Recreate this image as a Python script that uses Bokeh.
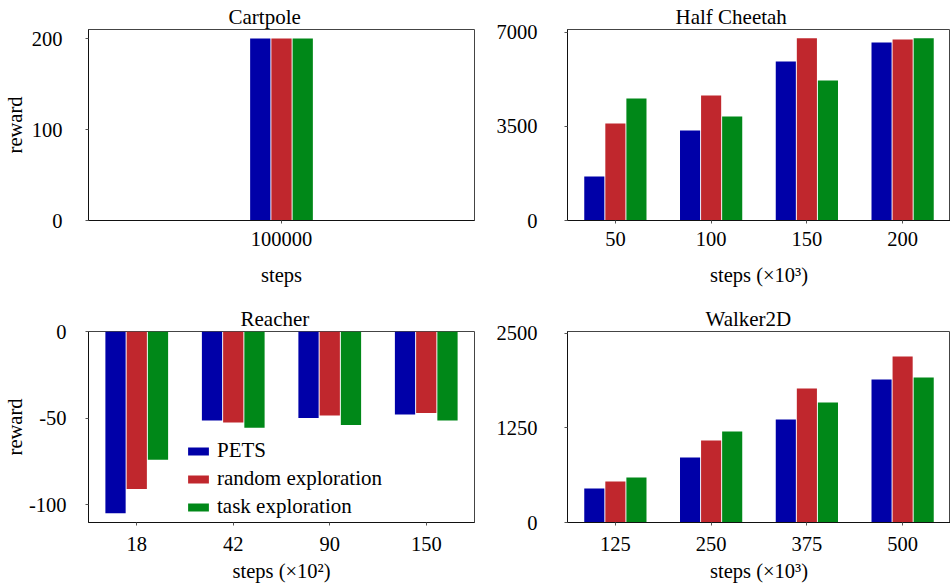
from bokeh.plotting import figure
from bokeh.models import Range1d, FactorRange, FixedTicker, Legend, LegendItem, ColumnDataSource
from bokeh.layouts import row, column
from bokeh.transform import dodge
from bokeh.embed import file_html
from bokeh.resources import INLINE

FONT = "'Liberation Serif'"
C_PETS = "#0000A8"
C_RAND = "#C0272D"
C_TASK = "#008818"

series = ["PETS", "random exploration", "task exploration"]

cartpole_steps = ["100000"]
cartpole_pets = [200]
cartpole_random = [200]
cartpole_task = [200]

cheetah_steps = ["50", "100", "150", "200"]
cheetah_pets = [1640, 3350, 5920, 6630]
cheetah_random = [3610, 4650, 6780, 6740]
cheetah_task = [4540, 3870, 5210, 6780]

reacher_steps = ["18", "42", "90", "150"]
reacher_pets = [-105, -51.4, -50, -48]
reacher_random = [-91, -52.6, -48.5, -47]
reacher_task = [-74, -55.6, -54, -51.4]
reacher_ytick_labels = {-100: "-100", -50: "-50", 0: "0"}

walker_steps = ["125", "250", "375", "500"]
walker_pets = [450, 860, 1362, 1891]
walker_random = [542, 1085, 1772, 2196]
walker_task = [595, 1204, 1587, 1918]


def panel(title, steps, pets, rnd, task, y_range, yticks, xlabel, ylabel,
          width, height, bl, br, bt, bb, title_offset, pad, y_standoff, ylab_standoff,
          x_standoff, xlab_standoff):
    src = ColumnDataSource(dict(step=steps, pets=pets, rnd=rnd, task=task))
    xr = FactorRange(*steps, range_padding=pad, range_padding_units="absolute")
    p = figure(x_range=xr, y_range=Range1d(*y_range), width=width, height=height,
               output_backend="svg", toolbar_location=None,
               min_border_left=bl, min_border_right=br, min_border_top=bt, min_border_bottom=bb)
    r1 = p.vbar(x=dodge("step", -0.22, range=xr), top="pets", width=0.21, source=src,
                fill_color=C_PETS, line_color=None)
    r2 = p.vbar(x=dodge("step", 0.0, range=xr), top="rnd", width=0.21, source=src,
                fill_color=C_RAND, line_color=None)
    r3 = p.vbar(x=dodge("step", 0.22, range=xr), top="task", width=0.21, source=src,
                fill_color=C_TASK, line_color=None)
    p.title.text = title
    p.title.align = "left"
    p.title.offset = title_offset
    p.title.text_font = FONT
    p.title.text_font_size = "21px"
    p.title.text_font_style = "normal"
    p.title.text_color = "black"
    p.title.standoff = 2
    p.xgrid.visible = False
    p.ygrid.visible = False
    p.outline_line_color = "#444444"
    p.outline_line_width = 1
    p.yaxis.ticker = FixedTicker(ticks=yticks)
    for ax in (p.xaxis[0], p.yaxis[0]):
        ax.major_label_text_font = FONT
        ax.major_label_text_font_size = "20.5px"
        ax.major_label_text_color = "black"
        ax.axis_label_text_font = FONT
        ax.axis_label_text_font_size = "20.5px"
        ax.axis_label_text_font_style = "normal"
        ax.axis_label_text_color = "black"
        ax.minor_tick_line_color = None
        ax.major_tick_in = 0
        ax.major_tick_out = 3
        ax.major_tick_line_color = "#555555"
        ax.axis_line_color = "#111111"
    p.xaxis.axis_label = xlabel
    p.xaxis.major_label_standoff = x_standoff
    p.xaxis.axis_label_standoff = xlab_standoff
    p.yaxis.major_label_standoff = y_standoff
    if ylabel:
        p.yaxis.axis_label = ylabel
        p.yaxis.axis_label_standoff = ylab_standoff
    return p, (r1, r2, r3)


p1, _ = panel("Cartpole", cartpole_steps, cartpole_pets, cartpole_random, cartpole_task,
              (0, 210), [0, 100, 200], "steps", "reward",
              480, 295, 88, 6, 29, 75, 140, 1.5, 23, 3, 8, 15)
p2, _ = panel("Half Cheetah", cheetah_steps, cheetah_pets, cheetah_random, cheetah_task,
              (0, 7110), [0, 3500, 7000], "steps (×10³)", None,
              470, 295, 87, 0, 29, 75, 108, 0.0, 27, 0, 8, 15)
p3, rs = panel("Reacher", reacher_steps, reacher_pets, reacher_random, reacher_task,
               (-110.3, 0), [-100, -50, 0], "steps (×10²)", "reward",
               480, 292, 88, 6, 34, 65, 152, 0.0, 19, 0, 11, 6)
p3.yaxis.major_label_overrides = reacher_ytick_labels
p4, _ = panel("Walker2D", walker_steps, walker_pets, walker_random, walker_task,
              (0, 2526), [0, 1250, 2500], "steps (×10³)", None,
              470, 292, 87, 0, 36, 65, 138, 0.0, 27, 0, 11, 6)

legend = Legend(items=[LegendItem(label=series[i], renderers=[rs[i]]) for i in range(3)],
                location=(97, 3), padding=0, margin=0, spacing=3,
                glyph_width=26, glyph_height=10, label_height=24, label_standoff=6,
                label_text_font=FONT, label_text_font_size="21px",
                label_text_color="black", border_line_color=None,
                background_fill_alpha=0)
p3.add_layout(legend)

layout = column(row(p1, p2), row(p3, p4))
open("out.html", "w").write(file_html(layout, INLINE))
